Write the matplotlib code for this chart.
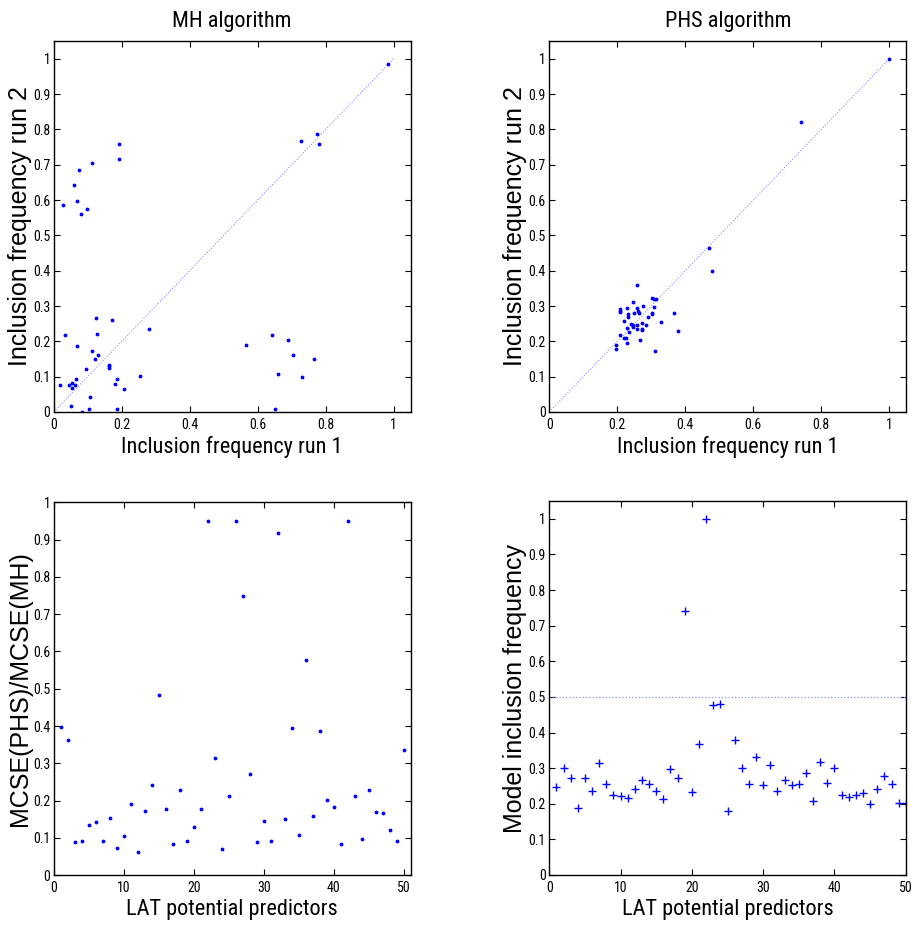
import numpy as np
import matplotlib
matplotlib.use("Agg")
import matplotlib.pyplot as plt
from matplotlib.ticker import FuncFormatter

# horizontal text in a condensed face, vertical labels in the regular one
NARROW = ["Liberation Sans Narrow", "Roboto Condensed", "PT Sans Narrow",
          "Archivo Narrow", "Liberation Sans", "DejaVu Sans"]
REGULAR = ["Liberation Sans", "DejaVu Sans"]
plt.rcParams["font.family"] = NARROW

# MH algorithm: inclusion frequencies from two independent runs
mh_run1 = [0.027, 0.061, 0.070, 0.074, 0.081, 0.098, 0.114, 0.191, 0.192,
           0.018, 0.032, 0.044, 0.052, 0.055, 0.055, 0.064, 0.066, 0.070,
           0.084, 0.095, 0.105, 0.107, 0.114, 0.122, 0.124, 0.128, 0.130,
           0.163, 0.163, 0.163, 0.172, 0.181, 0.186, 0.186, 0.206, 0.254,
           0.280, 0.565, 0.643, 0.651, 0.661, 0.689, 0.703, 0.729, 0.766,
           0.726, 0.775, 0.781, 0.983]
mh_run2 = [0.586, 0.644, 0.597, 0.685, 0.560, 0.574, 0.705, 0.758, 0.716,
           0.077, 0.219, 0.075, 0.017, 0.083, 0.069, 0.076, 0.093, 0.188,
           0.000, 0.121, 0.009, 0.043, 0.173, 0.151, 0.265, 0.220, 0.161,
           0.134, 0.129, 0.124, 0.259, 0.079, 0.093, 0.008, 0.065, 0.101,
           0.235, 0.191, 0.219, 0.008, 0.108, 0.203, 0.162, 0.100, 0.149,
           0.768, 0.788, 0.760, 0.986]

# PHS algorithm: inclusion frequencies from two independent runs
phs_run1 = [0.257, 0.207, 0.208, 0.209, 0.229, 0.247, 0.257, 0.262, 0.263,
            0.249, 0.232, 0.232, 0.275, 0.303, 0.309, 0.313, 0.309, 0.302,
            0.302, 0.290, 0.219, 0.240, 0.245, 0.247, 0.259, 0.259, 0.273,
            0.273, 0.273, 0.284, 0.329, 0.367, 0.378, 0.228, 0.235, 0.209,
            0.221, 0.225, 0.229, 0.267, 0.195, 0.195, 0.312, 0.469, 0.479,
            0.739, 1.000]
phs_run2 = [0.359, 0.291, 0.285, 0.282, 0.294, 0.310, 0.294, 0.286, 0.281,
            0.281, 0.277, 0.270, 0.299, 0.323, 0.319, 0.319, 0.296, 0.280,
            0.277, 0.270, 0.258, 0.248, 0.246, 0.240, 0.246, 0.236, 0.251,
            0.236, 0.231, 0.246, 0.254, 0.280, 0.228, 0.239, 0.227, 0.217,
            0.210, 0.209, 0.196, 0.203, 0.191, 0.178, 0.172, 0.465, 0.399,
            0.820, 1.000]

# per-predictor results for the 50 LAT candidates
predictors = np.arange(1, 51)
mcse_ratio = [0.397, 0.362, 0.088, 0.093, 0.135, 0.143, 0.091, 0.154, 0.072, 0.106,
              0.190, 0.062, 0.173, 0.243, 0.484, 0.177, 0.083, 0.229, 0.093, 0.129,
              0.177, 0.950, 0.315, 0.070, 0.213, 0.950, 0.748, 0.271, 0.089, 0.146,
              0.091, 0.917, 0.150, 0.395, 0.107, 0.576, 0.158, 0.387, 0.202, 0.182,
              0.083, 0.950, 0.213, 0.097, 0.229, 0.169, 0.168, 0.122, 0.091, 0.335]
phs_incl = [0.246, 0.301, 0.273, 0.187, 0.273, 0.236, 0.314, 0.255, 0.225, 0.222,
            0.215, 0.242, 0.267, 0.255, 0.237, 0.213, 0.298, 0.273, 0.742, 0.233,
            0.369, 1.000, 0.477, 0.479, 0.180, 0.379, 0.301, 0.255, 0.331, 0.253,
            0.309, 0.236, 0.267, 0.252, 0.255, 0.287, 0.209, 0.316, 0.259, 0.301,
            0.224, 0.220, 0.224, 0.229, 0.200, 0.242, 0.279, 0.255, 0.203, 0.201]

DOT = "#8c8cff"
XLABEL_FS = 16
YLABEL_FS = 18


def fmt_g(v, pos):
    return "%g" % round(v, 2)


def style(ax, xticks, yticks, xlabel, ylabel):
    ax.set_xticks(xticks)
    ax.set_yticks(yticks)
    ax.xaxis.set_major_formatter(FuncFormatter(fmt_g))
    ax.yaxis.set_major_formatter(FuncFormatter(fmt_g))
    ax.tick_params(direction="in", top=True, right=True, length=4,
                   width=0.8, labelsize=10)
    ax.tick_params(axis="x", pad=4)
    ax.tick_params(axis="y", pad=2.5)
    for s in ax.spines.values():
        s.set_linewidth(1.0)
    ax.set_xlabel(xlabel, fontsize=XLABEL_FS, labelpad=3)
    ax.set_ylabel(ylabel, fontsize=YLABEL_FS, labelpad=1, family=REGULAR)


fig = plt.figure(figsize=(9.13, 9.27), dpi=100)

freq_ticks = np.round(np.arange(0, 1.01, 0.2), 1)
prob_ticks = np.round(np.arange(0, 1.01, 0.1), 1)
pred_ticks = np.arange(0, 51, 10)

# top left: MH run 1 vs run 2
ax1 = fig.add_axes([0.0588, 0.5556, 0.391, 0.400])
ax1.plot([0, 1], [0, 1], ":", color=DOT, lw=0.8)
ax1.plot(mh_run1, mh_run2, "b.", ms=3.5)
ax1.set_xlim(0, 1.05)
ax1.set_ylim(0, 1.05)
style(ax1, freq_ticks, prob_ticks,
      "Inclusion frequency run 1", "Inclusion frequency run 2")
ax1.set_title("MH algorithm", fontsize=16, pad=10)

# top right: PHS run 1 vs run 2
ax2 = fig.add_axes([0.6016, 0.5556, 0.391, 0.400])
ax2.plot([0, 1], [0, 1], ":", color=DOT, lw=0.8)
ax2.plot(phs_run1, phs_run2, "b.", ms=3.5)
ax2.set_xlim(0, 1.05)
ax2.set_ylim(0, 1.05)
style(ax2, freq_ticks, prob_ticks,
      "Inclusion frequency run 1", "Inclusion frequency run 2")
ax2.set_title("PHS algorithm", fontsize=16, pad=10)

# bottom left: ratio of Monte Carlo standard errors
ax3 = fig.add_axes([0.0588, 0.0558, 0.391, 0.4024])
ax3.plot(predictors, mcse_ratio, "b.", ms=3.5)
ax3.set_xlim(0, 51)
ax3.set_ylim(0, 1)
style(ax3, pred_ticks, prob_ticks,
      "LAT potential predictors", "MCSE(PHS)/MCSE(MH)")

# bottom right: PHS inclusion frequency per predictor
ax4 = fig.add_axes([0.6016, 0.0561, 0.3905, 0.4034])
ax4.axhline(0.5, ls=":", color=DOT, lw=0.9)
ax4.plot(predictors, phs_incl, "b+", ms=6, mew=1.0)
ax4.set_xlim(0, 50)
ax4.set_ylim(0, 1.05)
style(ax4, pred_ticks, prob_ticks,
      "LAT potential predictors", "Model inclusion frequency")

fig.savefig("out.png", dpi=100)
